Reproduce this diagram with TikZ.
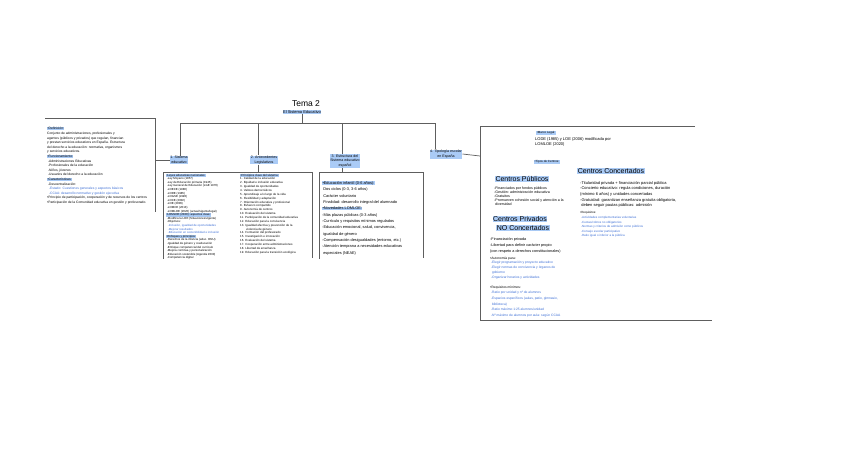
\documentclass[tikz,border=0pt]{standalone}
\usepackage{fontspec}
\setmainfont{Liberation Sans}
\definecolor{hl}{HTML}{AACBF6}
\definecolor{bl}{HTML}{3D6FD6}
\definecolor{ln}{HTML}{5E5E5E}
\newcommand{\hlt}[1]{{\setlength{\fboxsep}{0.3pt}\colorbox{hl}{#1}}}
\newcommand{\fs}[2]{\fontsize{#1}{#2}\selectfont\lineskiplimit=-20pt\relax}
\newcommand{\bb}[1]{{\color{bl}#1}}
\begin{document}
\begin{tikzpicture}[x=1pt,y=-1pt,
  conn/.style={draw=ln, line width=0.7pt},
  frame/.style={draw=ln, line width=0.7pt},
  lbl/.style={fill=hl, inner sep=0.5pt, align=center, font=\fs{3.6}{4.6}},
  blk/.style={anchor=north west, inner sep=0pt, align=left},
  big/.style={fill=hl, inner sep=0.5pt, font=\fs{7}{8}},
  tag/.style={fill=hl, inner sep=0.4pt, font=\fs{3}{3.6}}
]
\useasboundingbox[fill=white] (0,0) rectangle (848,461);

% ---------- title ----------
\node[font=\fs{8.5}{9}, inner sep=0pt] (title) at (306,104) {Tema 2};
\node[fill=hl, inner sep=0.5pt, font=\fs{4}{4.5}] (sub) at (302,112) {El Sistema Educativo};

\coordinate (hj) at (302,123);
\coordinate (h1) at (180,123);
\coordinate (h2) at (258,123);
\coordinate (h3) at (342,123);
\coordinate (h4) at (435,123);

% ---------- section labels ----------
\node[lbl] (l1) at (179,160) {1. Sistema\\educativo};
\node[lbl] (l2) at (264,160) {2. Antecedentes\\Legislativos};
\node[lbl] (l3) at (345,161) {3. Estructura del\\Sistema educativo\\español};
\node[lbl] (l4) at (446,154) {4. Tipología escolar\\en España};

\draw[conn] (sub.south) -- (hj);
\draw[conn] (h1) -- (h4);
\draw[conn] (h1) -- (h1 |- l1.north);
\draw[conn] (h2) -- (h2 |- l2.north);
\draw[conn] (h3) -- (h3 |- l3.north);
\draw[conn] (h4) -- (h4 |- l4.north);

% ---------- frames ----------
\coordinate (lbr) at (155,160);
\coordinate (b2t) at (258,172);
\coordinate (b3t) at (342,172);
\coordinate (rbl) at (480,156);

\draw[frame] (45,118) -- (155,118) -- (155,212);
\draw[frame] (163,259) -- (163,172) -- (312,172) -- (312,258);
\draw[frame] (319,259) -- (319,172) -- (423,172) -- (423,258);
\draw[frame] (695,126) -- (480,126) -- (480,320) -- (712,320);

\draw[conn] (l1.west) -- (lbr);
\draw[conn] (h2 |- l2.south) -- (b2t);
\draw[conn] (h3 |- l3.south) -- (b3t);
\draw[conn] (l4.east) -- (rbl);

% ---------- left box ----------
\node[blk, font=\fs{3.3}{4.6}] (def) at (47,127) {%
\hlt{•Definición:}\\
Conjunto de administraciones, profesionales y\\
agentes (públicos y privados) que regulan, financian\\
y prestan servicios educativos en España. Estructura\\
del derecho a la educación: normativa, organismos\\
y servicios educativos.\\
\hlt{•Funcionamiento:}\\
\ -Administraciones Educativas\\
\ -Profesionales de la educación\\
\ -Niños, jóvenes\\
\ -Usuarios del derecho a la educación\\
\hlt{•Características:}\\
\ -Descentralización:\\
\bb{\ \ -Estado: Cuestiones generales y aspectos básicos}\\
\bb{\ \ -CCAA: desarrollo normativo y gestión ejecutiva}\\
•Principio de participación, cooperación y de recursos de los centros\\
•Participación de la Comunidad educativa en gestión y profesorado.};

% ---------- column 2 box, left part ----------
\node[blk, font=\fs{2.9}{3.6}] (leyes) at (166,173.5) {%
\hlt{•Leyes educativas nacionales:}\\
\ -Ley Moyano (1857)\\
\ -Ley de Educación primaria (1945)\\
\ -Ley General de Educación (LGE 1970)\\
\ -LOECE (1980)\\
\ -LODE (1985)\\
\ -LOGSE (1990)\\
\ -LOCE (2002)\\
\ -LOE (2006)\\
\ -LOMCE (2013)\\
\ -LOMLOE (2020) (actual/vigente/legal)\\
\hlt{•LOMLOE (2020): aspectos clave:}\\
\ -Modifica la LOE (Situaciones/vigente)\\
\ -Objetivos:\\
\bb{\ \ -Inclusión, igualdad de oportunidades}\\
\bb{\ \ -Mejorar resultados}\\
\bb{\ \ -Educación en sostenibilidad e inclusión}\\
\hlt{•Enfoques y principios:}\\
\ -Derechos de la infancia (educ. ONU)\\
\ -Igualdad de género y coeducación\\
\ -Enfoque competencial del currículo\\
\ -Mejora continua y personalización\\
\ -Educación sostenible (Agenda 2030)\\
\ -Competencia digital};

% ---------- column 2 box, right part ----------
\node[blk, font=\fs{2.95}{3.85}] (princ) at (240,173.5) {%
\hlt{•Principios clave del sistema:}\\
1. Calidad de la educación\\
2. Equidad e inclusión educativa\\
3. Igualdad de oportunidades\\
4. Valores democráticos\\
5. Aprendizaje a lo largo de la vida\\
6. Flexibilidad y adaptación\\
7. Orientación educativa y profesional\\
8. Esfuerzo compartido\\
9. Autonomía de centros\\
10. Evaluación del sistema\\
11. Participación de la comunidad educativa\\
12. Educación para la convivencia\\
13. Igualdad efectiva y prevención de la\\
\hspace*{6pt}violencia de género\\
14. Formación del profesorado\\
15. Investigación e innovación\\
16. Evaluación del sistema\\
17. Cooperación entre administraciones\\
18. Libertad de enseñanza\\
19. Educación para la transición ecológica};

% ---------- column 3 box ----------
\node[blk, font=\fs{3.9}{6.35}] (infant) at (322,181) {%
\hlt{•Educación infantil (0-6 años):}\\
\ Dos ciclos (0-3, 3-6 años)\\
\ Carácter voluntario\\
\ Finalidad: desarrollo integral del alumnado\\
\hlt{•Novedades LOMLOE:}\\
-Más plazas públicas (0-3 años)\\
-Currículo y requisitos mínimos regulados\\
-Educación emocional, salud, convivencia,\\
\ igualdad de género\\
-Compensación desigualdades (entorno, etc.)\\
-Atención temprana a necesidades educativas\\
\ especiales (NEAE)};

% ---------- right box ----------
\node[tag] (marco) at (546,133) {•Marco Legal:};
\node[blk, font=\fs{4}{5}] (legal) at (535,137) {%
LODE (1985) y LOE (2006) modificada por\\
LOMLOE (2020)};
\node[tag] (tipos) at (547,162) {•Tipos de Centros:};

\node[big] (pub) at (522,179) {Centros Públicos};
\node[blk, font=\fs{3.6}{4.1}] (pubt) at (494,186.5) {%
-Financiados por fondos públicos\\
-Gestión: administración educativa\\
-Gratuitos\\
-Promueven cohesión social y atención a la\\
\ diversidad};

\node[big] (priv1) at (520,219) {Centros Privados};
\node[big] (priv2) at (523,228) {NO Concertados};
\node[blk, font=\fs{3.8}{6}] (privt) at (490,237.5) {%
-Financiación privada\\
-Libertad para definir carácter propio\\
(con respeto a derechos constitucionales)};
\node[blk, font=\fs{3.3}{4.75}] (auto) at (490,256.5) {%
•Autonomía para:\\
\bb{\ -Elegir programación y proyecto educativo}\\
\bb{\ -Elegir normas de convivencia y órganos de}\\
\bb{\ \ gobierno}\\
\bb{\ -Organizar horarios y actividades}};
\node[blk, font=\fs{3.3}{5.7}] (req) at (490,285.5) {%
•Requisitos mínimos:\\
\bb{\ -Ratio por unidad y nº de alumnos}\\
\bb{\ -Espacios específicos (aulas, patio, gimnasio,}\\
\bb{\ \ biblioteca)}\\
\bb{\ -Ratio máximo 1:25 alumnos/unidad}\\
\bb{\ -Nº máximo de alumnos por aula: según CCAA}};

\node[big] (conc) at (611,171) {Centros Concertados};
\node[blk, font=\fs{4}{5.7}] (conct) at (580,181) {%
-Titularidad privada + financiación parcial pública\\
-Concierto educativo: regula condiciones, duración\\
(mínimo 6 años) y unidades concertadas\\
-Gratuidad: garantizan enseñanza gratuita obligatoria,\\
\ deben seguir pautas públicas: admisión};
\node[blk, font=\fs{3}{4.6}] (concr) at (580,211.5) {%
•Requisitos:\\
\bb{\ -Actividades complementarias voluntarias}\\
\bb{\ -Cuotas/cobros no obligatorios}\\
\bb{\ -Normas y criterios de admisión como públicos}\\
\bb{\ -Consejo escolar participativo}\\
\bb{\ -Ratio igual o inferior a la pública}};
\end{tikzpicture}
\end{document}
